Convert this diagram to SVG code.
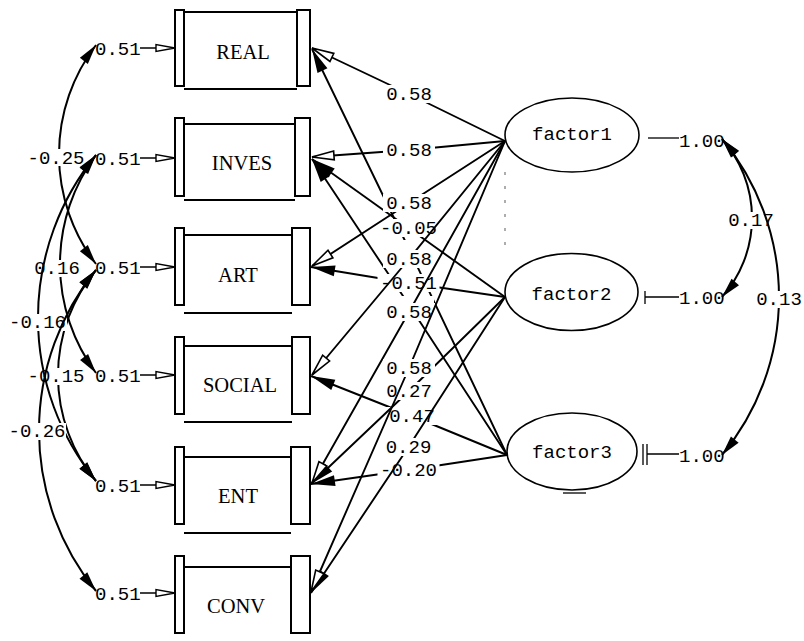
<svg xmlns="http://www.w3.org/2000/svg" width="804" height="641" viewBox="0 0 804 641">
<defs>
<style>
.num{font-family:"Liberation Mono","DejaVu Sans Mono",monospace;font-size:19px;fill:#000}
.mid{text-anchor:middle}
.nm{font-family:"Liberation Serif","Times New Roman",serif;font-size:20.5px;fill:#000;text-anchor:middle}
.bar{fill:#fff;stroke:#000;stroke-width:2}
.edge{fill:none;stroke:#000;stroke-width:2}
.ell{fill:#fff;stroke:#000;stroke-width:1.6}
.ln{fill:none;stroke:#000;stroke-width:1.9}
.cv{fill:none;stroke:#000;stroke-width:2}
.thin{fill:none;stroke:#000;stroke-width:1.3}
.bg{fill:#fff}
</style>
<marker id="openHead" markerUnits="userSpaceOnUse" markerWidth="30" markerHeight="16" refX="0" refY="0" orient="auto" overflow="visible"><path d="M0,0 L-22,-4.5 L-22,4.5 Z" fill="#fff" stroke="#000" stroke-width="1.6"/></marker>
<marker id="fillHead" markerUnits="userSpaceOnUse" markerWidth="30" markerHeight="16" refX="0" refY="0" orient="auto" overflow="visible"><path d="M0,0 L-24,-5.5 L-24,5.5 Z" fill="#000"/></marker>
<marker id="smallOpen" markerUnits="userSpaceOnUse" markerWidth="24" markerHeight="10" refX="0" refY="0" orient="auto" overflow="visible"><path d="M0,0 L-19,-3.5 L-19,3.5 Z" fill="#fff" stroke="#000" stroke-width="1.4"/></marker>
<marker id="covHead" markerUnits="userSpaceOnUse" markerWidth="24" markerHeight="12" refX="0" refY="0" orient="auto-start-reverse" overflow="visible"><path d="M0,0 L-20,-5 L-20,5 Z" fill="#000"/></marker>
</defs>
<rect width="804" height="641" fill="#fff"/>

<!-- observed variable boxes -->
<g id="REAL"><path class="edge" d="M184,12 H297 M184,89 H297"/><rect class="bar" x="175" y="10" width="9" height="76"/><rect class="bar" x="297" y="10" width="13" height="76"/><text class="nm" x="243" y="59">REAL</text></g>
<g id="INVES"><path class="edge" d="M184,124 H295 M184,200 H295"/><rect class="bar" x="175" y="118" width="9" height="78"/><rect class="bar" x="295" y="118" width="15" height="78"/><text class="nm" x="242" y="170">INVES</text></g>
<g id="ART"><path class="edge" d="M184,235 H292 M184,313 H292"/><rect class="bar" x="175" y="228" width="9" height="77"/><rect class="bar" x="292" y="228" width="18" height="77"/><text class="nm" x="238" y="282">ART</text></g>
<g id="SOCIAL"><path class="edge" d="M184,346 H292 M184,422 H292"/><rect class="bar" x="175" y="337" width="9" height="77"/><rect class="bar" x="292" y="337" width="18" height="77"/><text class="nm" x="240" y="392">SOCIAL</text></g>
<g id="ENT"><path class="edge" d="M184,457 H291 M184,533 H291"/><rect class="bar" x="175" y="447" width="9" height="77"/><rect class="bar" x="291" y="447" width="19" height="77"/><text class="nm" x="238" y="503">ENT</text></g>
<g id="CONV"><path class="edge" d="M184,567 H291"/><rect class="bar" x="175" y="556" width="9" height="77"/><rect class="bar" x="291" y="556" width="19" height="77"/><text class="nm" x="236" y="613">CONV</text></g>

<!-- latent factors -->
<g id="factor1"><ellipse class="ell" cx="572" cy="135" rx="67" ry="37"/><text class="num mid" x="572" y="140">factor1</text></g>
<g id="factor2"><ellipse class="ell" cx="571.5" cy="292" rx="66.5" ry="38.5"/><text class="num mid" x="571.5" y="299.5">factor2</text></g>
<g id="factor3"><ellipse class="ell" cx="572" cy="451.5" rx="65" ry="38.5"/><text class="num mid" x="572" y="458">factor3</text><path class="thin" d="M563,493 H586"/></g>

<g id="connectors">
<!-- error variances -->
<g id="errors">
<text class="num" x="95" y="54.5">0.51</text><path class="thin" d="M140,48 H175" marker-end="url(#smallOpen)"/>
<text class="num" x="95" y="164.5">0.51</text><path class="thin" d="M140,158 H175" marker-end="url(#smallOpen)"/>
<text class="num" x="95" y="273.5">0.51</text><path class="thin" d="M140,267 H175" marker-end="url(#smallOpen)"/>
<text class="num" x="95" y="381.5">0.51</text><path class="thin" d="M140,375 H175" marker-end="url(#smallOpen)"/>
<text class="num" x="95" y="491.5">0.51</text><path class="thin" d="M140,485 H175" marker-end="url(#smallOpen)"/>
<text class="num" x="95" y="599.5">0.51</text><path class="thin" d="M140,593 H175" marker-end="url(#smallOpen)"/>
</g>

<!-- error covariances -->
<g id="error-covariances">
<path class="cv" d="M96,45 A180.5,180.5 0 0 0 96,264" marker-start="url(#covHead)" marker-end="url(#covHead)"/>
<rect class="bg" x="27" y="149" width="58" height="17"/><text class="num mid" x="56" y="164">-0.25</text>
<path class="cv" d="M96,155 A183,183 0 0 0 96,373" marker-start="url(#covHead)" marker-end="url(#covHead)"/>
<rect class="bg" x="33" y="260" width="49" height="17"/><text class="num mid" x="57" y="274">0.16</text>
<path class="cv" d="M96,270 A165.4,165.4 0 0 0 96,481" marker-start="url(#covHead)" marker-end="url(#covHead)"/>
<rect class="bg" x="27" y="368" width="58" height="17"/><text class="num mid" x="56" y="382">-0.15</text>
<path class="cv" d="M96,155 A258,258 0 0 0 96,481" marker-start="url(#covHead)" marker-end="url(#covHead)"/>
<rect class="bg" x="8" y="314" width="59" height="17"/><text class="num mid" x="37.5" y="328">-0.16</text>
<path class="cv" d="M96,270 A254.5,254.5 0 0 0 96,591" marker-start="url(#covHead)" marker-end="url(#covHead)"/>
<rect class="bg" x="8" y="423" width="58" height="17"/><text class="num mid" x="37" y="437">-0.26</text>
</g>

<!-- factor variances and covariances -->
<g id="factor-covariances">
<path class="thin" d="M648,138 H679"/><text class="num" x="679" y="147">1.00</text>
<path class="thin" d="M645,291 V304 M645,297 H679"/><text class="num" x="679" y="304">1.00</text>
<path class="thin" d="M643,444 V465 M647,444 V465 M647,454 H679"/><text class="num" x="679" y="462">1.00</text>
<path class="cv" d="M722,139 A119,119 0 0 1 722,297" marker-start="url(#covHead)" marker-end="url(#covHead)"/>
<rect class="bg" x="727" y="212" width="49" height="17"/><text class="num mid" x="751" y="226">0.17</text>
<path class="cv" d="M722,139 A247.5,247.5 0 0 1 722,455" marker-start="url(#covHead)" marker-end="url(#covHead)"/>
<rect class="bg" x="755" y="291" width="49" height="17"/><text class="num mid" x="779" y="305">0.13</text>
</g>

<!-- loadings: factor3 -->
<g id="loadings-factor3">
<path class="ln" d="M507,455 L409,249 L312,49" marker-end="url(#fillHead)"/>
<rect class="bg" x="384" y="240" width="50" height="18"/>
<path class="ln" d="M507,455 L409,305 L312,159" marker-end="url(#fillHead)"/>
<rect class="bg" x="384" y="296" width="50" height="18"/>
<path class="ln" d="M507,455 L412,416 L311,376" marker-end="url(#fillHead)"/>
<rect class="bg" x="386" y="407" width="52" height="18"/><text class="num mid" x="412" y="422">0.47</text>
<path class="ln" d="M507,455 L408.5,470 L311,484" marker-end="url(#fillHead)"/>
<rect class="bg" x="377.5" y="461" width="62" height="18"/><text class="num mid" x="408.5" y="476">-0.20</text>
</g>

<!-- loadings: factor2 -->
<g id="loadings-factor2">
<path class="ln" d="M505,297 L408.5,228 L312,159" marker-end="url(#fillHead)"/>
<rect class="bg" x="377.5" y="219" width="62" height="18"/><text class="num mid" x="408.5" y="234">-0.05</text>
<path class="ln" d="M505,297 L408.5,283 L311,267" marker-end="url(#fillHead)"/>
<rect class="bg" x="377.5" y="274" width="62" height="18"/><text class="num mid" x="408.5" y="289">-0.51</text>
<path class="ln" d="M505,297 L409,391 L311,484" marker-end="url(#fillHead)"/>
<rect class="bg" x="383" y="382" width="52" height="18"/><text class="num mid" x="409" y="397">0.27</text>
<path class="ln" d="M505,297 L408.5,447 L311,593" marker-end="url(#fillHead)"/>
<rect class="bg" x="382.5" y="438" width="52" height="18"/><text class="num mid" x="408.5" y="453">0.29</text>
</g>

<!-- loadings: factor1 -->
<g id="loadings-factor1">
<path class="ln" d="M505,141 L409,94 L312,48" marker-end="url(#openHead)"/>
<rect class="bg" x="383" y="85" width="52" height="18"/><text class="num mid" x="409" y="100">0.58</text>
<path class="ln" d="M505,141 L409,150 L312,157" marker-end="url(#openHead)"/>
<rect class="bg" x="383" y="141" width="52" height="18"/><text class="num mid" x="409" y="156">0.58</text>
<path class="ln" d="M505,141 L409,203 L312,266" marker-end="url(#openHead)"/>
<rect class="bg" x="383" y="194" width="52" height="18"/><text class="num mid" x="409" y="209">0.58</text>
<path class="ln" d="M505,141 L409,259 L312,375" marker-end="url(#openHead)"/>
<rect class="bg" x="383" y="250" width="52" height="18"/><text class="num mid" x="409" y="265">0.58</text>
<path class="ln" d="M505,141 L409,312 L312,483" marker-end="url(#openHead)"/>
<rect class="bg" x="383" y="303" width="52" height="18"/><text class="num mid" x="409" y="318">0.58</text>
<path class="ln" d="M505,141 L409,368 L311,592" marker-end="url(#openHead)"/>
<rect class="bg" x="383" y="359" width="52" height="18"/><text class="num mid" x="409" y="374">0.58</text>
</g>
</g>

<path d="M505,172 V252" fill="none" stroke="#777" stroke-width="1.2" stroke-dasharray="3,11"/>
</svg>
